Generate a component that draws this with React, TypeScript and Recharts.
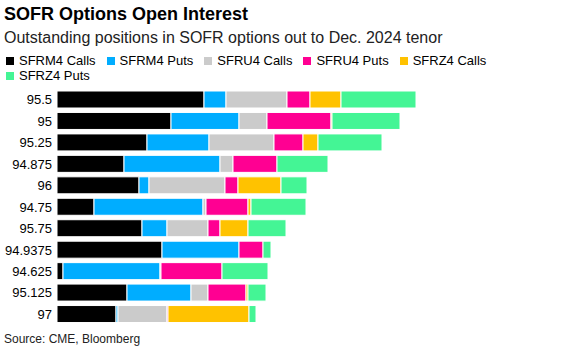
import React from 'react'
import { Bar, BarChart, XAxis, YAxis } from 'recharts'

// strikes, top to bottom
const strikes = ['95.5', '95', '95.25', '94.875', '96', '94.75', '95.75', '94.9375', '94.625', '95.125', '97']

// open interest by contract (rough units)
const sfrm4Calls = [147, 114, 90, 67, 82, 37, 85, 105, 6, 70, 59]
const sfrm4Puts = [22, 68, 62, 96, 10, 109, 25, 77, 97, 64, 2]
const sfru4Calls = [61, 28, 65, 13, 76, 3, 41, 0, 1, 17, 49]
const sfru4Puts = [23, 64, 29, 44, 13, 42, 12, 24, 61, 38, 1]
const sfrz4Calls = [31, 1, 15, 0, 43, 3, 28, 0, 0, 2, 81]
const sfrz4Puts = [75, 68, 64, 51, 26, 55, 38, 8, 46, 18, 7]

const series = [
  { key: 'SFRM4 Calls', values: sfrm4Calls, color: '#000000' },
  { key: 'SFRM4 Puts', values: sfrm4Puts, color: '#00adff' },
  { key: 'SFRU4 Calls', values: sfru4Calls, color: '#cbcbcb' },
  { key: 'SFRU4 Puts', values: sfru4Puts, color: '#ff0092' },
  { key: 'SFRZ4 Calls', values: sfrz4Calls, color: '#ffc200' },
  { key: 'SFRZ4 Puts', values: sfrz4Puts, color: '#44f595' },
]

const data = strikes.map((strike, i) => {
  const row: Record<string, string | number> = { strike }
  series.forEach((s) => {
    row[s.key] = s.values[i]
  })
  return row
})

const font = '"Liberation Sans", Arial, sans-serif'

const App = () => {
  return (
    <div
      style={{
        position: 'absolute',
        left: 0,
        top: 0,
        width: 564,
        height: 355,
        background: '#fff',
        fontFamily: font,
        color: '#000',
      }}
    >
      <div style={{ position: 'absolute', left: 4, top: 4, fontSize: 18, fontWeight: 700, whiteSpace: 'nowrap' }}>
        SOFR Options Open Interest
      </div>
      <div style={{ position: 'absolute', left: 4, top: 29, fontSize: 16, whiteSpace: 'nowrap', color: '#222' }}>
        Outstanding positions in SOFR options out to Dec. 2024 tenor
      </div>

      <div
        style={{
          position: 'absolute',
          left: 6,
          top: 53,
          width: 500,
          display: 'flex',
          flexWrap: 'wrap',
          columnGap: 11,
          rowGap: 0,
          fontSize: 13,
          lineHeight: '15px',
        }}
      >
        {series.map((s) => (
          <div key={s.key} style={{ display: 'flex', alignItems: 'center', whiteSpace: 'nowrap' }}>
            <span style={{ width: 8, height: 8, background: s.color, marginRight: 5, display: 'inline-block' }} />
            {s.key}
          </div>
        ))}
      </div>

      <div style={{ position: 'absolute', left: 0, top: 89 }}>
        <BarChart
          width={564}
          height={236}
          data={data}
          layout='vertical'
          margin={{ top: 0, right: 0, bottom: 0, left: 0 }}
        >
          <XAxis type='number' hide domain={[0, 507]} />
          <YAxis
            type='category'
            dataKey='strike'
            width={57}
            axisLine={false}
            tickLine={false}
            tickSize={0}
            tickMargin={5}
            interval={0}
            tick={{ fill: '#000', fontSize: 13, fontFamily: font }}
          />
          {series.map((s) => (
            <Bar
              key={s.key}
              dataKey={s.key}
              stackId='oi'
              fill={s.color}
              stroke='#fff'
              strokeWidth={1}
              barSize={17}
              isAnimationActive={false}
            />
          ))}
        </BarChart>
      </div>

      <div style={{ position: 'absolute', left: 4, top: 332, fontSize: 12, color: '#222', whiteSpace: 'nowrap' }}>
        Source: CME, Bloomberg
      </div>
    </div>
  )
}

export default App
